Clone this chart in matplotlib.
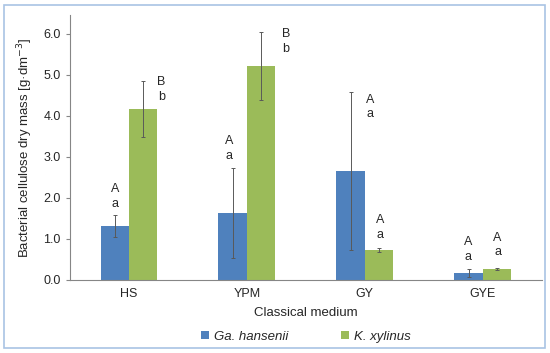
import numpy as np
import matplotlib
matplotlib.use('Agg')
import matplotlib.pyplot as plt
from matplotlib.patches import Rectangle

# data
media = ['HS', 'YPM', 'GY', 'GYE']
ga_mean = [1.32, 1.63, 2.66, 0.16]
ga_err = [0.27, 1.10, 1.93, 0.10]
kx_mean = [4.16, 5.22, 0.73, 0.27]
kx_err = [0.68, 0.83, 0.06, 0.03]

# significance letters (upper / lower) and where they sit
ga_letters = ['A\na', 'A\na', 'A\na', 'A\na']
kx_letters = ['B\nb', 'B\nb', 'A\na', 'A\na']
ga_lab_x = [-0.12, 0.853, 2.045, 2.879]
ga_lab_y = [2.04, 3.21, 4.22, 0.74]
kx_lab_x = [0.274, 1.33, 2.13, 3.126]
kx_lab_y = [4.65, 5.82, 1.27, 0.85]

blue = '#4F81BD'
green = '#9BBB59'
grey = '#868686'

plt.rcParams['font.family'] = ['Liberation Sans', 'DejaVu Sans']

fig = plt.figure(figsize=(5.5, 3.53), dpi=100)
ax = fig.add_axes([0.127, 0.207, 0.858, 0.7505])

x = np.arange(len(media))
w = 0.24
err_kw = dict(ecolor='#595959', elinewidth=0.7, capsize=1.5, capthick=0.7)
ax.bar(x - w/2, ga_mean, w, yerr=ga_err, color=blue, label='Ga. hansenii', error_kw=err_kw)
ax.bar(x + w/2, kx_mean, w, yerr=kx_err, color=green, label='K. xylinus', error_kw=err_kw)

for i in range(len(media)):
    ax.text(ga_lab_x[i], ga_lab_y[i], ga_letters[i], ha='center', va='center',
            fontsize=9, color='#262626', linespacing=1.3)
    ax.text(kx_lab_x[i], kx_lab_y[i], kx_letters[i], ha='center', va='center',
            fontsize=9, color='#262626', linespacing=1.3)

ax.set_xlim(-0.5, 3.5)
ax.set_ylim(0, 6.46)
ax.set_yticks(np.arange(0, 7, 1.0))
ax.set_yticklabels([f'{v:.1f}' for v in np.arange(0, 7, 1.0)])
ax.set_xticks(x)
ax.set_xticklabels(media)
ax.tick_params(axis='x', length=0, labelsize=9, pad=6, colors='#262626')
ax.tick_params(axis='y', length=3, width=0.8, labelsize=9, colors='#262626')
ax.tick_params(axis='y', color=grey)
for s in ['top', 'right']:
    ax.spines[s].set_visible(False)
for s in ['left', 'bottom']:
    ax.spines[s].set_color(grey)
    ax.spines[s].set_linewidth(0.8)

ax.set_ylabel('Bacterial cellulose dry mass [g·dm$^{-3}$]', fontsize=9.5, color='#262626', labelpad=6)
ax.set_xlabel('Classical medium', fontsize=9.5, color='#262626', labelpad=5)

leg = ax.legend(loc='center', bbox_to_anchor=(0.5, -0.215), ncol=2, frameon=False,
                fontsize=9.5, handlelength=0.6, handleheight=0.6, columnspacing=4.0,
                handletextpad=0.4)
for t in leg.get_texts():
    t.set_fontstyle('italic')
    t.set_color('#262626')

fig.patches.append(Rectangle((4/550, 5/353), 541/550, 343/353, transform=fig.transFigure,
                             fill=False, edgecolor='#A9C4E4', linewidth=1.2))

plt.savefig('out.png', dpi=100)
